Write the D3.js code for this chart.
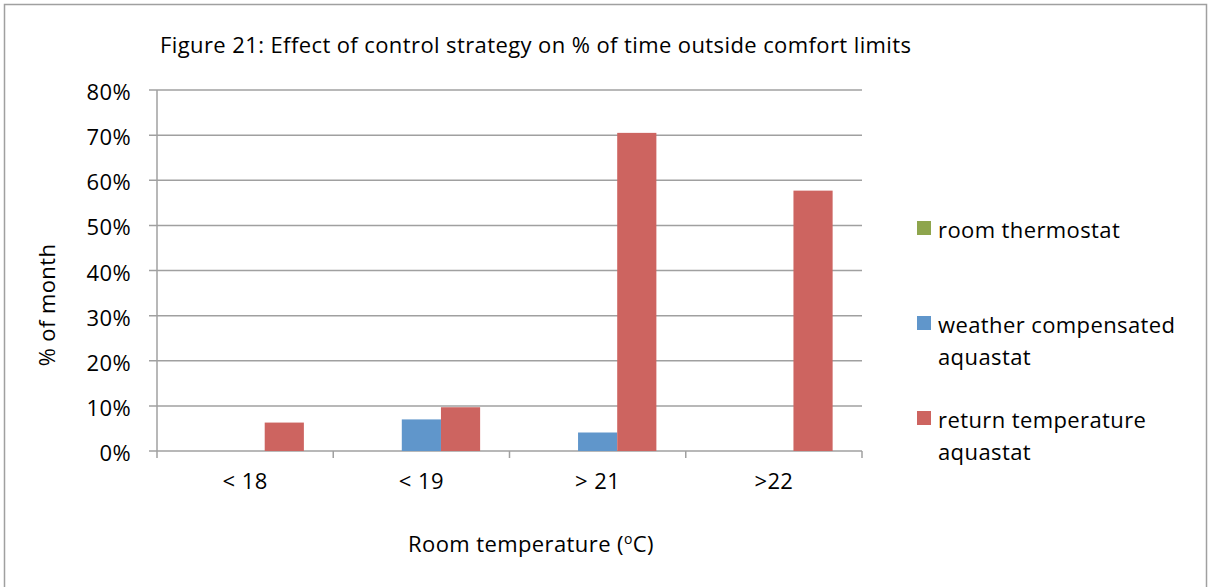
<!DOCTYPE html>
<html>
<head>
<meta charset="utf-8">
<script src="https://cdn.jsdelivr.net/npm/d3@7"></script>
<style>
  body { margin: 0; background: #fff; }
  svg text { font-family: "Open Sans", sans-serif; fill: #000; letter-spacing: 0.4px; }
</style>
</head>
<body>
<svg></svg>
<script>
var categories = ["< 18", "< 19", "> 21", ">22"];
var seriesNames = ["room thermostat", "weather compensated aquastat", "return temperature aquastat"];
var seriesColors = ["#8ea54d", "#6096cb", "#cd6460"];
var roomThermostat = [0, 0, 0, 0];
var weatherCompensated = [0, 0.070, 0.041, 0];
var returnTemperature = [0.063, 0.097, 0.705, 0.577];
var yTicks = [0, 0.1, 0.2, 0.3, 0.4, 0.5, 0.6, 0.7, 0.8];

var seriesValues = [roomThermostat, weatherCompensated, returnTemperature];

var width = 1208,
    height = 587,
    fontSize = 22;

var svg = d3.select("svg")
  .attr("width", width)
  .attr("height", height);

// outer chart border
svg.append("rect")
  .attr("x", 4.5).attr("y", 4.5)
  .attr("width", 1202).attr("height", 600)
  .attr("fill", "none")
  .attr("stroke", "#a0a0a0")
  .attr("stroke-width", 1.5);

var plot = { left: 157, right: 862, top: 90, bottom: 451 };

var x0 = d3.scaleBand()
  .domain(categories)
  .range([plot.left, plot.right])
  .padding(0);

// excel style: gap of 1.5 bar widths between groups
var unit = x0.bandwidth() / 4.5;
var x1 = d3.scaleBand()
  .domain(d3.range(seriesNames.length))
  .range([0.75 * unit, 3.75 * unit])
  .padding(0);

var y = d3.scaleLinear()
  .domain([0, 0.8])
  .range([plot.bottom, plot.top]);

// gridlines
svg.append("g")
  .selectAll("line")
  .data(yTicks)
  .enter().append("line")
    .attr("x1", plot.left - 8)
    .attr("x2", plot.right)
    .attr("y1", function(d) { return y(d); })
    .attr("y2", function(d) { return y(d); })
    .attr("stroke", "#a0a0a0")
    .attr("stroke-width", 1.5);

// y axis line
svg.append("line")
  .attr("x1", plot.left).attr("x2", plot.left)
  .attr("y1", plot.top).attr("y2", plot.bottom)
  .attr("stroke", "#a0a0a0")
  .attr("stroke-width", 1.5);

// x tick marks at category boundaries
var boundaries = categories.map(function(c) { return x0(c); }).concat([plot.right]);
svg.append("g")
  .selectAll("line")
  .data(boundaries)
  .enter().append("line")
    .attr("x1", function(d) { return d; })
    .attr("x2", function(d) { return d; })
    .attr("y1", plot.bottom)
    .attr("y2", plot.bottom + 7)
    .attr("stroke", "#a0a0a0")
    .attr("stroke-width", 1.5);

// y tick labels
var fmt = d3.format(".0%");
svg.append("g")
  .selectAll("text")
  .data(yTicks)
  .enter().append("text")
    .attr("x", 131)
    .attr("y", function(d) { return y(d) + 10; })
    .attr("text-anchor", "end")
    .attr("font-size", fontSize)
    .text(function(d) { return fmt(d); });

// bars
var groups = svg.append("g")
  .selectAll("g")
  .data(seriesValues)
  .enter().append("g")
    .attr("fill", function(d, i) { return seriesColors[i]; });

groups.selectAll("rect")
  .data(function(values, si) {
    return values.map(function(v, ci) { return { s: si, c: categories[ci], v: v }; });
  })
  .enter().append("rect")
    .attr("x", function(d) { return x0(d.c) + x1(d.s); })
    .attr("width", x1.bandwidth())
    .attr("y", function(d) { return y(d.v); })
    .attr("height", function(d) { return y(0) - y(d.v); });

// x category labels
svg.append("g")
  .selectAll("text")
  .data(categories)
  .enter().append("text")
    .attr("x", function(d) { return x0(d) + x0.bandwidth() / 2; })
    .attr("y", 489)
    .attr("text-anchor", "middle")
    .attr("font-size", fontSize)
    .text(function(d) { return d; });

// title
svg.append("text")
  .attr("x", 160)
  .attr("y", 53)
  .attr("font-size", fontSize)
  .text("Figure 21: Effect of control strategy on % of time outside comfort limits");

// y axis title
svg.append("text")
  .attr("transform", "translate(55,305) rotate(-90)")
  .attr("text-anchor", "middle")
  .attr("font-size", fontSize)
  .text("% of month");

// x axis title
var xt = svg.append("text")
  .attr("x", 531)
  .attr("y", 552)
  .attr("text-anchor", "middle")
  .attr("font-size", fontSize);
xt.append("tspan").text("Room temperature (");
xt.append("tspan").attr("dy", -8).attr("font-size", 14).text("o");
xt.append("tspan").attr("dy", 8).text("C)");

// legend
var legendLines = [["room thermostat"], ["weather compensated", "aquastat"], ["return temperature", "aquastat"]];
var legendTop = [221, 316, 411];
var legend = svg.append("g")
  .selectAll("g")
  .data(legendLines)
  .enter().append("g")
    .attr("transform", function(d, i) { return "translate(917," + legendTop[i] + ")"; });

legend.append("rect")
  .attr("width", 14)
  .attr("height", 14)
  .attr("fill", function(d, i) { return seriesColors[i]; });

legend.selectAll("text")
  .data(function(d) { return d; })
  .enter().append("text")
    .attr("x", 21)
    .attr("y", function(d, i) { return 17 + i * 32; })
    .attr("font-size", fontSize)
    .text(function(d) { return d; });
</script>
</body>
</html>
